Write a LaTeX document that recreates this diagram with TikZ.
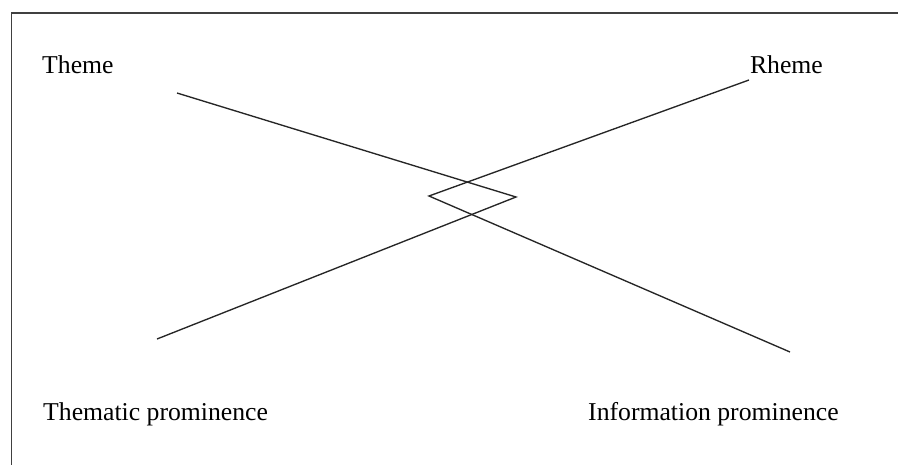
\documentclass[tikz,border=0pt]{standalone}
\usepackage{fontspec}
\setmainfont{Liberation Serif}
\begin{document}
\begin{tikzpicture}[x=1pt,y=-1pt,
  label/.style={inner sep=0pt,font=\fontsize{25.7}{30}\selectfont,text=black},
  stroke/.style={line width=1.35pt,draw=black!85,line join=miter}]
\useasboundingbox (0,0) rectangle (898,464);
% outer frame, running off the right and bottom edges
\begin{scope}
\clip (0,0) rectangle (898,464);
\draw[line width=1.7pt,draw=black!75] (11.5,13.3) rectangle (910,480);
\end{scope}
% labels
\node[label,anchor=base west] (theme) at (42,73) {Theme};
\node[label,anchor=base east] (rheme) at (823,73) {Rheme};
\node[label,anchor=base west] (thprom) at (43,420) {Thematic prominence};
\node[label,anchor=base west] (infprom) at (588,420) {Information prominence};
% line end points
\coordinate (a1) at (177,93);
\coordinate (a2) at (516,197);
\coordinate (a3) at (157,339);
\coordinate (b1) at (749,80);
\coordinate (b2) at (429,196);
\coordinate (b3) at (790,352);
% Theme -> Thematic prominence, Rheme -> Information prominence
\draw[stroke] (a1) -- (a2) -- (a3);
\draw[stroke] (b1) -- (b2) -- (b3);
\end{tikzpicture}
\end{document}
